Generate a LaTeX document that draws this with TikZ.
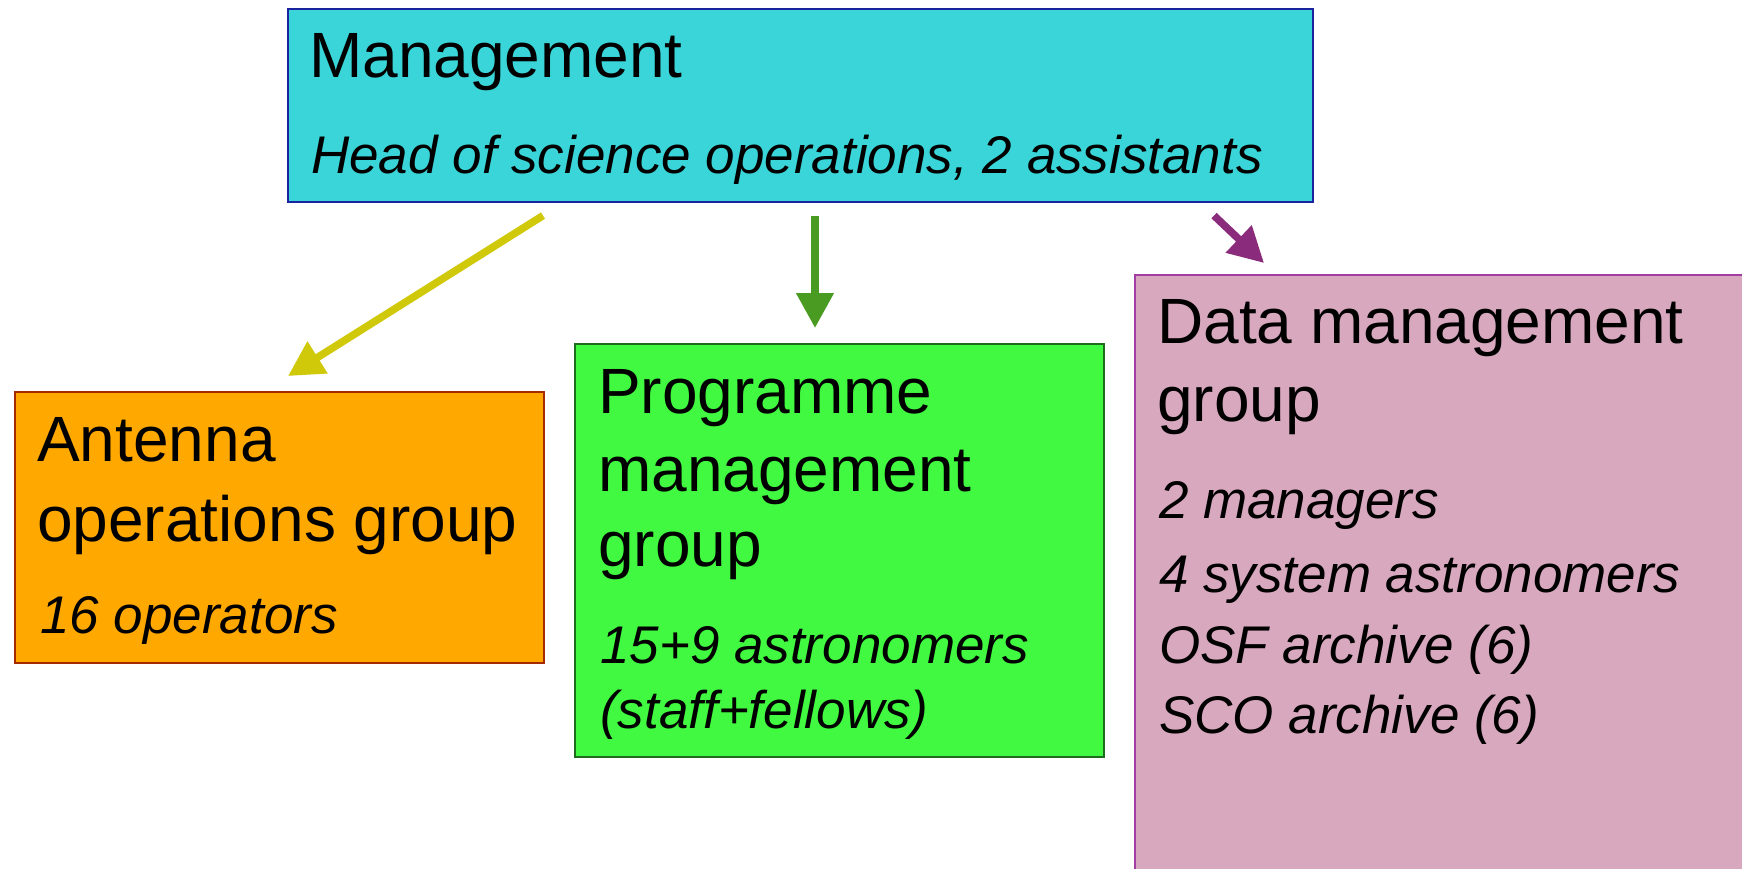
\documentclass[tikz,border=0pt]{standalone}
\usepackage{fontspec}
\setmainfont{Liberation Sans}
\usetikzlibrary{arrows.meta,calc}
\definecolor{mgmtfill}{HTML}{3AD5D8}
\definecolor{mgmtdraw}{HTML}{1A24A0}
\definecolor{antfill}{HTML}{FFA800}
\definecolor{antdraw}{HTML}{A52A00}
\definecolor{progfill}{HTML}{40F940}
\definecolor{progdraw}{HTML}{1E6B1E}
\definecolor{datafill}{HTML}{D8A8BE}
\definecolor{datadraw}{HTML}{A23DA3}
\definecolor{arrY}{HTML}{CFC90A}
\definecolor{arrG}{HTML}{4A9B22}
\definecolor{arrP}{HTML}{8A2B7B}
\tikzset{
  box/.style={draw, line width=1.6pt, anchor=north west, inner sep=0pt},
  title/.style={anchor=base west, inner sep=0pt, font=\fontsize{64}{77}\selectfont},
  sub/.style={anchor=base west, inner sep=0pt, font=\fontsize{53}{64}\selectfont\itshape},
  conn/.style={line width=7.5pt, -{Triangle[width=36pt,length=35pt]}}
}
\begin{document}
\begin{tikzpicture}[x=1pt,y=-1pt]
\useasboundingbox (0,0) rectangle (1742,869);
\clip (0,0) rectangle (1742,869);
\fill[white] (0,0) rectangle (1742,869);
% boxes
\node[box, draw=mgmtdraw, fill=mgmtfill, minimum width=1025pt, minimum height=193pt] (mgmt) at (287,8) {};
\node[box, draw=antdraw, fill=antfill, minimum width=529pt, minimum height=271pt] (ant) at (14,391) {};
\node[box, draw=progdraw, fill=progfill, minimum width=529pt, minimum height=413pt] (prog) at (574,343) {};
\node[box, draw=datadraw, fill=datafill, minimum width=640pt, minimum height=620pt] (data) at (1134,274) {};
% texts
\node[title] (mgmtT) at (309,78) {Management};
\node[sub] (mgmtS) at (311,174) {Head of science operations, 2 assistants};
\node[title] (antT1) at (37,461) {Antenna};
\node[title] (antT2) at (37,541) {operations group};
\node[sub] (antS) at (40,633) {16 operators};
\node[title] (progT1) at (598,413) {Programme};
\node[title] (progT2) at (598,491) {management};
\node[title] (progT3) at (598,566) {group};
\node[sub] (progS1) at (600,663) {15+9 astronomers};
\node[sub] (progS2) at (600,728) {(staff+fellows)};
\node[title] (dataT1) at (1157,343) {Data management};
\node[title] (dataT2) at (1157,421) {group};
\node[sub] (dataS1) at (1159,518) {2 managers};
\node[sub] (dataS2) at (1159,592) {4 system astronomers};
\node[sub] (dataS3) at (1159,663) {OSF archive (6)};
\node[sub] (dataS4) at (1159,733) {SCO archive (6)};
% connectors
\draw[conn, arrY] ($(mgmt.south west)+(256,13)$) -- ($(ant.north west)+(274,-15)$);
\draw[conn, arrG] ($(mgmt.south west)+(528,13)$) -- ($(prog.north west)+(241,-15)$);
\draw[conn, arrP] ($(mgmt.south west)+(927,13)$) -- ($(data.north west)+(130,-11)$);
\end{tikzpicture}
\end{document}
